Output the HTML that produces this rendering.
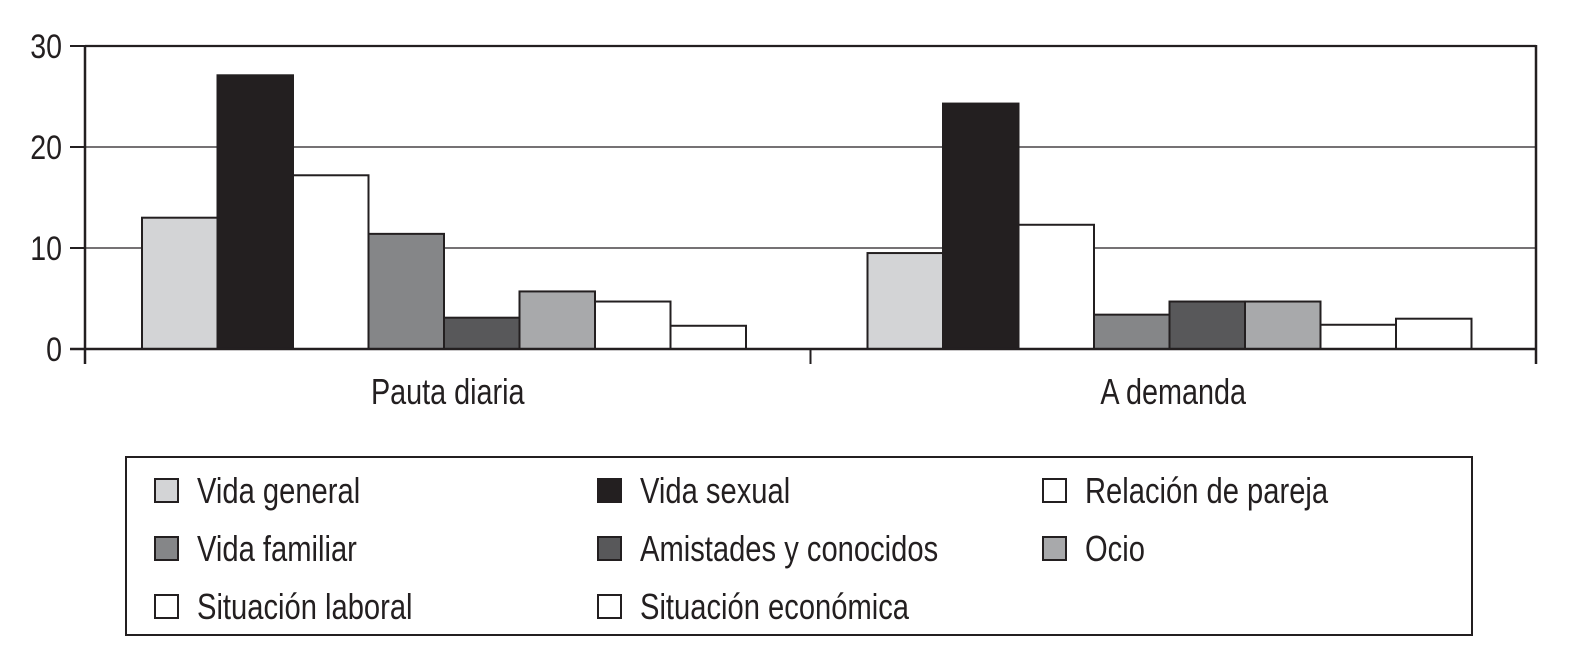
<!DOCTYPE html>
<html><head><meta charset="utf-8"><style>
body{margin:0;background:#fff;}
svg{display:block;font-family:"Liberation Sans Narrow","Liberation Sans",sans-serif;}
</style></head><body>
<svg id="chart" width="1575" height="666" viewBox="0 0 1575 666" xmlns="http://www.w3.org/2000/svg"></svg>
<script>
const categories = ["Pauta diaria", "A demanda"];
const seriesNames = ["Vida general","Vida sexual","Relación de pareja","Vida familiar","Amistades y conocidos","Ocio","Situación laboral","Situación económica"];
const seriesColors = ["#d3d4d6","#231f20","#ffffff","#858688","#58585a","#a8a9ab","#ffffff","#ffffff"];
const pautaValues = [13.0, 27.1, 17.2, 11.4, 3.1, 5.7, 4.7, 2.3];
const demandaValues = [9.5, 24.3, 12.3, 3.4, 4.7, 4.7, 2.4, 3.0];
const yTicks = [0, 10, 20, 30];

const NS = "http://www.w3.org/2000/svg";
const svg = document.getElementById('chart');
const X0 = 85, X1 = 1536, Y0 = 349, Y30 = 46;
const yScale = v => Y0 - (v / 30) * (Y0 - Y30);
const groupW = (X1 - X0) / categories.length;
const barW = 75.5, groupPad = 57;
function mk(tag, attrs, parent) {
  const e = document.createElementNS(NS, tag);
  for (const k in attrs) e.setAttribute(k, attrs[k]);
  (parent || svg).appendChild(e);
  return e;
}
function txt(x, y, size, sx, anchor, s) {
  const t = mk('text', {x: 0, y: 0, transform: 'translate(' + x + ',' + y + ') scale(' + sx + ',1)', 'text-anchor': anchor, 'font-size': size, fill: '#231f20'});
  t.textContent = s;
  return t;
}
yTicks.forEach(t => {
  const y = yScale(t);
  if (t > 0) {
    const g = mk('line', {x1: X0, x2: X1, y1: y, y2: y, stroke: '#231f20', 'stroke-width': t === 30 ? 2.2 : 1.2});
    
    
  }
  const tk = mk('line', {x1: 70, x2: X0, y1: y, y2: y, stroke: '#231f20', 'stroke-width': 2});
  
  
  const tx = txt(62, y + 12, 34, 0.84, 'end', t);
  
  
});
[pautaValues, demandaValues].forEach((vals, gi) => {
  vals.forEach((v, si) => {
    const x = X0 + gi * groupW + groupPad + si * barW;
    const r = mk('rect', {x: x, y: yScale(v), width: barW, height: Y0 - yScale(v), fill: seriesColors[si], stroke: '#231f20', 'stroke-width': 2});
    
    
  });
  const cx = X0 + gi * groupW + groupW / 2;
  const lb = txt(cx, 404, 36, 0.8, 'middle', categories[gi]);
  
  
});
const ya = mk('line', {x1: X0, x2: X0, y1: Y30, y2: 364, stroke: '#231f20', 'stroke-width': 2.5});


const ra = mk('line', {x1: X1, x2: X1, y1: Y30 - 1, y2: 364, stroke: '#231f20', 'stroke-width': 2.5});


const xa = mk('line', {x1: 70, x2: X1, y1: Y0, y2: Y0, stroke: '#231f20', 'stroke-width': 2.5});


const mt = mk('line', {x1: X0 + groupW, x2: X0 + groupW, y1: Y0, y2: 364, stroke: '#231f20', 'stroke-width': 2});


const lg = mk('rect', {x: 126, y: 457, width: 1346, height: 178, fill: 'none', stroke: '#231f20', 'stroke-width': 2});


const colX = [155, 598, 1043], rowY = [490, 548, 606];
seriesNames.forEach((n, i) => {
  const cx = colX[i % 3], cy = rowY[Math.floor(i / 3)];
  const sw = mk('rect', {x: cx, y: cy - 11, width: 23, height: 23, fill: seriesColors[i], stroke: '#231f20', 'stroke-width': 2});
  
  
  const t = txt(cx + 42, cy + 13, 36, 0.81, 'start', n);
  
  
});
</script>
</body></html>
